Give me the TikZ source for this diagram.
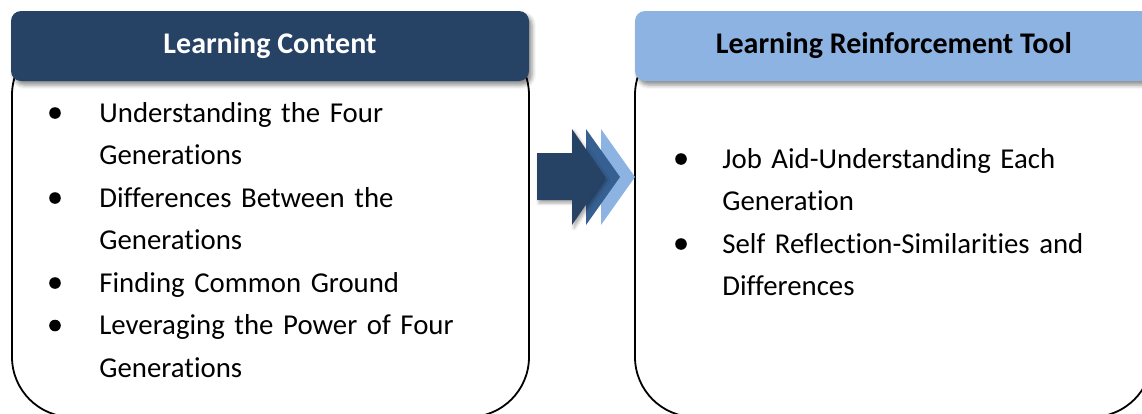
\documentclass[tikz,border=0pt]{standalone}
\usepackage{fontspec}
\setmainfont{Carlito}[Ligatures=NoCommon]
\usetikzlibrary{shadows.blur}
\definecolor{navy}{HTML}{264264}
\definecolor{midblue}{HTML}{376092}
\definecolor{skyblue}{HTML}{8DB3E2}
\tikzset{
	body/.style={draw=black,line width=0.9pt,rounded corners=30pt,minimum width=258.5pt,minimum height=191pt,inner sep=0pt},
	header/.style={rounded corners=5pt,minimum width=259pt,minimum height=35pt,inner sep=0pt,font=\fontsize{15pt}{18pt}\selectfont\bfseries,
		blur shadow={shadow xshift=1.5pt,shadow yshift=-2pt,shadow blur radius=2pt,shadow opacity=45}},
	item/.style={anchor=base west,inner sep=0pt,text width=230pt,align=left,font=\fontsize{14.4pt}{21.25pt}\selectfont},
	dot/.style={circle,fill=black,inner sep=0pt,minimum size=5.8pt}
}
\begin{document}
\begin{tikzpicture}[x=0.5pt,y=-0.5pt]
	\useasboundingbox (0,0) rectangle (1142,413);
	\clip (0,0) rectangle (1142,413);
	\node [body] (contentbox) at (270.5,226) {};
	\node [body] (toolbox) at (893.5,226) {};
	\node [header,fill=navy,text=white] (contenthead) at (270,46) {Learning Content};
	\node [header,fill=skyblue,text=black] (toolhead) at (894,46) {Learning Reinforcement Tool};
	\fill [skyblue] (601,129) -- (635,177) -- (601,225) -- cycle;
	\fill [midblue] (586,129) -- (620,177) -- (586,225) -- cycle;
	\fill [navy,blur shadow={shadow xshift=1pt,shadow yshift=-1.5pt,shadow blur radius=1.5pt,shadow opacity=35}] (537,153) -- (572,153) -- (572,129) -- (605,177) -- (572,225) -- (572,200) -- (537,200) -- cycle;
	\node [dot] (b1) at (55,113) {};
	\node [item] (i1) at (99,122) {Understanding the Four\\Generations};
	\node [dot] (b2) at (55,198) {};
	\node [item] (i2) at (99,207) {Differences Between the\\Generations};
	\node [dot] (b3) at (55,283) {};
	\node [item] (i3) at (99,292) {Finding Common Ground};
	\node [dot] (b4) at (55,325.5) {};
	\node [item] (i4) at (99,334.5) {Leveraging the Power of Four\\Generations};
	\node [dot] (b5) at (681,159) {};
	\node [item] (i5) at (722,168) {Job Aid-Understanding Each\\Generation};
	\node [dot] (b6) at (681,244) {};
	\node [item] (i6) at (722,253) {Self Reflection-Similarities and\\Differences};
\end{tikzpicture}
\end{document}
